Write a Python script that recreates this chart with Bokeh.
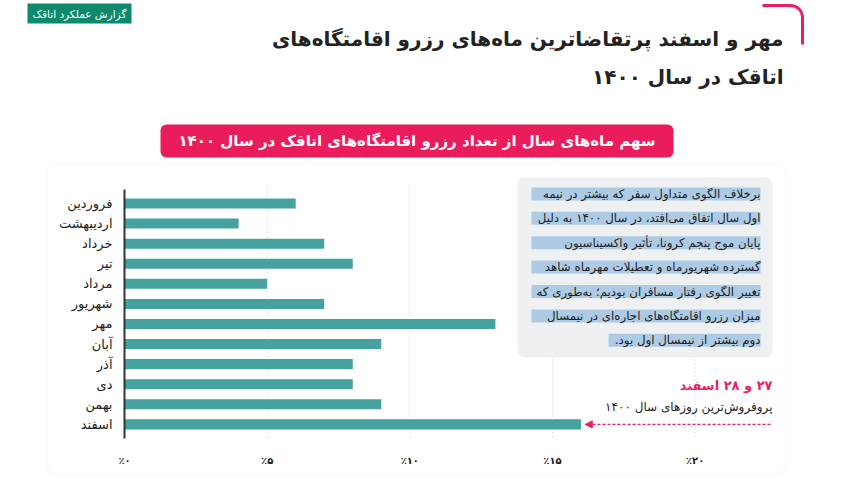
import math
from bokeh.plotting import figure
from bokeh.models import (Range1d, FixedTicker, Label, BoxAnnotation, PolyAnnotation,
                          Arrow, NormalHead, ColumnDataSource)
from bokeh.embed import file_html
from bokeh.resources import INLINE

# ---------------- data ----------------
months = ["فروردین", "اردیبهشت", "خرداد", "تیر", "مرداد", "شهریور",
          "مهر", "آبان", "آذر", "دی", "بهمن", "اسفند"]
shares = [6, 4, 7, 8, 5, 7, 13, 9, 8, 8, 9, 16]
x_ticks = [0, 5, 10, 15, 20]
x_tick_labels = ["٪۰", "٪۵", "٪۱۰", "٪۱۵", "٪۲۰"]
grid_ticks = [5, 10, 15, 20]

badge_text = "گزارش عملکرد اتاقک"
title_lines = ["مهر و اسفند پرتقاضاترین ماه‌های رزرو اقامتگاه‌های",
               "اتاقک در سال ۱۴۰۰"]
chart_title = "سهم ماه‌های سال از تعداد رزرو اقامتگاه‌های اتاقک در سال ۱۴۰۰"
note_lines = ["برخلاف الگوی متداول سفر که بیشتر در نیمه",
              "اول سال اتفاق می‌افتد، در سال ۱۴۰۰ به دلیل",
              "پایان موج پنجم کرونا، تأثیر واکسیناسیون",
              "گسترده شهریورماه و تعطیلات مهرماه شاهد",
              "تغییر الگوی رفتار مسافران بودیم؛ به‌طوری که",
              "میزان رزرو اقامتگاه‌های اجاره‌ای در نیمسال",
              "دوم بیشتر از نیمسال اول بود."]
peak_title = "۲۷ و ۲۸ اسفند"
peak_text = "پروفروش‌ترین روزهای سال ۱۴۰۰"

RLM = "\u200f"
FONT = "DejaVu Sans"
TEXT = "#222222"
PINK = "#e91e63"
PILL = "#eb1c5b"
BAR = "#45a29e"
BADGE = "#0c8a6b"

W, H = 842, 479
PX_PER_PCT = 28.53      # horizontal scale (pixels per percent)
PX_PER_ROW = 20.08      # vertical scale (pixels per month row)
X0, Y0 = 124, 203       # pixel position of 0% and of the first row

p = figure(width=W, height=H, output_backend="svg", toolbar_location=None,
           x_range=Range1d(-X0 / PX_PER_PCT, (W - X0) / PX_PER_PCT),
           y_range=Range1d((H - Y0) / PX_PER_ROW, -Y0 / PX_PER_ROW),
           min_border=0, min_border_left=0, min_border_right=0,
           min_border_top=0, min_border_bottom=0)
p.title.visible = False
p.outline_line_color = None
p.background_fill_color = "white"
p.border_fill_color = "white"


def cbox(l, r, t, b, **kw):
    return BoxAnnotation(left=l, right=r, top=t, bottom=b,
                         left_units="canvas", right_units="canvas",
                         top_units="canvas", bottom_units="canvas", **kw)


def clabel(x, y, text, size, color=TEXT, align="right", style="normal"):
    return Label(x=x, y=y, x_units="canvas", y_units="canvas", text=text,
                 text_font=FONT, text_font_size=size, text_color=color,
                 text_align=align, text_baseline="middle", text_font_style=style)


# card
p.add_layout(cbox(47, 785, 163, 473, fill_color="white", fill_alpha=1,
                  line_color="#e3e3e3", line_width=1, border_radius=9, level="image"))

# grid lines (dashed), bars
last = len(months) - 1
p.segment(x0=grid_ticks, x1=grid_ticks, y0=[-1.0] * len(grid_ticks),
          y1=[last + 0.7] * len(grid_ticks),
          line_color="#e0e0e0", line_width=1, line_dash="2 2")
src = ColumnDataSource(dict(idx=list(range(len(months))), share=shares, month=months))
p.hbar(y="idx", left=0, right="share", height=0.5, source=src,
       fill_color=BAR, line_color=None)

# axes (fixed inside the canvas)
p.xaxis.fixed_location = last + 0.7
p.xaxis.ticker = FixedTicker(ticks=x_ticks)
p.xaxis.major_label_overrides = {t: l for t, l in zip(x_ticks, x_tick_labels)}
p.xaxis.axis_line_color = None
p.xaxis.major_tick_line_color = None
p.xaxis.minor_tick_line_color = None
p.xaxis.major_label_standoff = 11
p.xaxis.major_label_text_font = FONT
p.xaxis.major_label_text_font_size = "10px"
p.xaxis.major_label_text_font_style = "bold"
p.xaxis.major_label_text_color = TEXT

p.yaxis.fixed_location = 0
p.yaxis.ticker = FixedTicker(ticks=list(range(len(months))))
p.yaxis.major_label_overrides = {i: m for i, m in enumerate(months)}
p.yaxis.bounds = (-0.7, last + 0.7)
p.yaxis.axis_line_color = "#333333"
p.yaxis.axis_line_width = 2
p.yaxis.major_tick_line_color = None
p.yaxis.minor_tick_line_color = None
p.yaxis.major_label_standoff = 6
p.yaxis.major_label_text_font = FONT
p.yaxis.major_label_text_font_size = "13px"
p.yaxis.major_label_text_color = TEXT
p.grid.visible = False

# note box
p.add_layout(cbox(517, 772, 177, 357, fill_color="#eef0f2", fill_alpha=1,
                  line_color=None, border_radius=7))
for i, line in enumerate(note_lines):
    cy = 193.4 + 24.4 * i
    left = 531 if i < len(note_lines) - 1 else 608
    p.add_layout(cbox(left, 760, cy - 6.5, cy + 6.5, fill_color="#aecbe5",
                      fill_alpha=1, line_color=None))
for i, line in enumerate(note_lines):
    cy = 193.4 + 24.4 * i
    p.add_layout(clabel(760, cy, RLM + line + RLM, "11.8px"))

# peak annotation
p.add_layout(clabel(772, 385, RLM + peak_title + RLM, "13px", color=PINK, style="bold"))
p.add_layout(clabel(772, 406, RLM + peak_text + RLM, "12px"))
p.add_layout(Arrow(x_start=(770 - X0) / PX_PER_PCT, y_start=last,
                   x_end=shares[-1] + 0.15, y_end=last,
                   line_color=PINK, line_width=1.2, line_dash="3 2",
                   end=NormalHead(size=7, fill_color=PINK, line_color=PINK)))

# header: badge
p.add_layout(cbox(27, 131, 3, 23, fill_color=BADGE, fill_alpha=1, line_color=None))
p.add_layout(clabel(79, 13, badge_text, "10.5px", color="white", align="center"))

# header: bracket
bx, by = [762.0, 790.0], [5.0, 5.0]
for k in range(1, 9):
    a = -math.pi / 2 + (math.pi / 2) * k / 8
    bx.append(790.0 + 12 * math.cos(a))
    by.append(17.0 + 12 * math.sin(a))
bx.append(802.0)
by.append(44.0)
px_, py_ = bx + bx[::-1], by + by[::-1]
p.add_layout(PolyAnnotation(xs=px_, ys=py_, xs_units="canvas", ys_units="canvas",
                            fill_color=None, fill_alpha=0,
                            line_color=PINK, line_alpha=1.0, line_width=3))

# header: title
p.add_layout(clabel(783, 38, RLM + title_lines[0] + RLM, "20px", style="bold"))
p.add_layout(clabel(783, 76, RLM + title_lines[1] + RLM, "20px", style="bold"))

# chart title pill
p.add_layout(cbox(160, 673, 124, 157, fill_color=PILL, fill_alpha=1,
                  line_color=None, border_radius=6))
p.add_layout(clabel(416.5, 140.5, RLM + chart_title + RLM, "15px",
                    color="white", align="center", style="bold"))

open("out.html", "w").write(file_html(p, INLINE))
